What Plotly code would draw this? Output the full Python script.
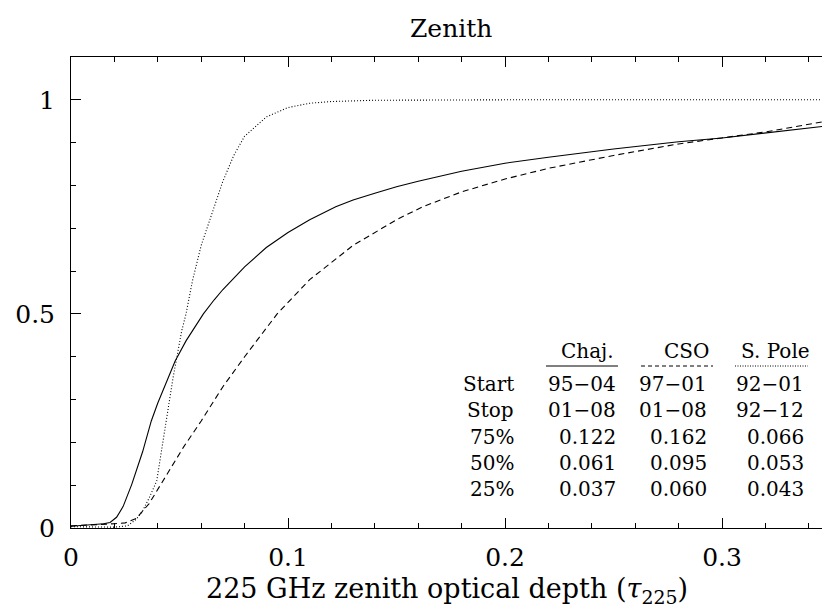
import plotly.graph_objects as go

# --- data ---
chaj_tau = [0, 0.005, 0.01, 0.015, 0.018, 0.021, 0.024, 0.028, 0.033, 0.037, 0.040, 0.044, 0.048,
            0.053, 0.057, 0.061, 0.066, 0.07, 0.08, 0.09, 0.1, 0.11, 0.122, 0.13, 0.14, 0.15, 0.16,
            0.18, 0.2, 0.22, 0.25, 0.28, 0.3, 0.32, 0.35]
chaj_frac = [0.004, 0.006, 0.008, 0.01, 0.013, 0.025, 0.05, 0.102, 0.178, 0.25, 0.292, 0.343, 0.39,
             0.437, 0.47, 0.50, 0.533, 0.557, 0.61, 0.655, 0.69, 0.72, 0.75, 0.766, 0.782, 0.797, 0.81,
             0.833, 0.852, 0.866, 0.885, 0.902, 0.911, 0.922, 0.94]

cso_tau = [0, 0.01, 0.02, 0.025, 0.03, 0.036, 0.044, 0.052, 0.06, 0.07, 0.08, 0.095, 0.11, 0.13,
           0.15, 0.162, 0.18, 0.2, 0.22, 0.25, 0.28, 0.3, 0.32, 0.35]
cso_frac = [0.005, 0.007, 0.01, 0.012, 0.022, 0.057, 0.125, 0.19, 0.25, 0.33, 0.40, 0.5, 0.58, 0.66,
            0.72, 0.75, 0.785, 0.815, 0.84, 0.87, 0.897, 0.911, 0.925, 0.952]

pole_tau = [0, 0.01, 0.02, 0.026, 0.03, 0.033, 0.036, 0.0395, 0.043, 0.047, 0.051, 0.053, 0.056, 0.06,
            0.066, 0.07, 0.075, 0.08, 0.09, 0.1, 0.11, 0.12, 0.14, 0.17, 0.2, 0.35]
pole_frac = [0.003, 0.003, 0.002, 0.005, 0.02, 0.04, 0.07, 0.11, 0.22, 0.35, 0.46, 0.5, 0.578, 0.66,
             0.75, 0.81, 0.87, 0.915, 0.96, 0.982, 0.992, 0.996, 0.999, 1.0, 1.0, 1.0]

row_labels = ["Start", "Stop", "75%", "50%", "25%"]
site_names = ["Chaj.", "CSO", "S. Pole"]
site_cols = [
    ["95\u221204", "01\u221208", "0.122", "0.061", "0.037"],
    ["97\u221201", "01\u221208", "0.162", "0.095", "0.060"],
    ["92\u221201", "92\u221212", "0.066", "0.053", "0.043"],
]
x_ticks = [0, 0.1, 0.2, 0.3]
y_ticks = [0, 0.5, 1]

FONT = "DejaVu Serif"
W, H = 822, 608
L, T, B = 71, 57, 80
PW, PH = W - L, H - T - B


def px(x):
    return (x - L) / PW


def py(y):
    return (H - B - y) / PH


fig = go.Figure()
fig.add_trace(go.Scatter(x=chaj_tau, y=chaj_frac, mode="lines",
                         line=dict(color="black", width=1.1), name="Chaj."))
fig.add_trace(go.Scatter(x=cso_tau, y=cso_frac, mode="lines",
                         line=dict(color="black", width=1.1, dash="6px,4px"), name="CSO"))
fig.add_trace(go.Scatter(x=pole_tau, y=pole_frac, mode="lines",
                         line=dict(color="black", width=1.1, dash="1px,2px"), name="S. Pole"))

ann = []
# title
ann.append(dict(text="Zenith", x=0.506, y=py(28), xref="paper", yref="paper",
                showarrow=False, font=dict(family=FONT, size=25, color="black"),
                xanchor="center", yanchor="middle"))
# x title
ann.append(dict(text="225 GHz zenith optical depth (<i>\u03c4</i><sub>225</sub>)",
                x=px(447), y=py(590), xref="paper", yref="paper",
                showarrow=False, font=dict(family=FONT, size=27, color="black"),
                xanchor="center", yanchor="middle"))

row_y = [384, 410, 437, 463, 489]
label_right = 516
col_right = [618, 709, 806]
col_center = [587, 686, 775]
tfont = dict(family=FONT, size=20, color="black")
for lab, yy in zip(row_labels, row_y):
    ann.append(dict(text=lab, x=px(label_right), y=py(yy), xref="paper", yref="paper",
                    showarrow=False, font=tfont, xanchor="right", yanchor="middle"))
for ci, col in enumerate(site_cols):
    for val, yy in zip(col, row_y):
        ann.append(dict(text=val, x=px(col_right[ci]), y=py(yy), xref="paper", yref="paper",
                        showarrow=False, font=tfont, xanchor="right", yanchor="middle"))
    ann.append(dict(text=site_names[ci], x=px(col_center[ci]), y=py(351), xref="paper", yref="paper",
                    showarrow=False, font=tfont, xanchor="center", yanchor="middle"))

shapes = []
dashes = ["solid", "4px,3px", "1px,1.5px"]
under = [(546, 618), (641, 713), (735, 808)]
for (a, b), d in zip(under, dashes):
    shapes.append(dict(type="line", xref="paper", yref="paper", x0=px(a), x1=px(b),
                       y0=py(366), y1=py(366), line=dict(color="black", width=1, dash=d)))

fig.update_layout(
    width=W, height=H,
    margin=dict(l=L, r=0, t=T, b=B),
    paper_bgcolor="white", plot_bgcolor="white",
    showlegend=False,
    annotations=ann, shapes=shapes,
    font=dict(family=FONT, color="black"),
)
fig.update_xaxes(range=[0, (W - L) / 2170], tickvals=x_ticks, ticktext=["0", "0.1", "0.2", "0.3"],
                 ticks="inside", ticklen=10, tickwidth=1, tickcolor="black",
                 minor=dict(dtick=0.02, ticks="inside", ticklen=5, tickcolor="black", tickwidth=1),
                 showline=True, linecolor="black", linewidth=1, mirror="ticks",
                 showgrid=False, zeroline=False,
                 tickfont=dict(family=FONT, size=25, color="black"), ticklabelstandoff=7)
fig.update_yaxes(range=[0, 1.1], tickvals=y_ticks, ticktext=["0", "0.5", "1"],
                 ticks="inside", ticklen=10, tickwidth=1, tickcolor="black",
                 minor=dict(dtick=0.1, ticks="inside", ticklen=5, tickcolor="black", tickwidth=1),
                 showline=True, linecolor="black", linewidth=1, mirror=False,
                 showgrid=False, zeroline=False,
                 tickfont=dict(family=FONT, size=25, color="black"), ticklabelstandoff=10)

fig.write_html("out.html")
